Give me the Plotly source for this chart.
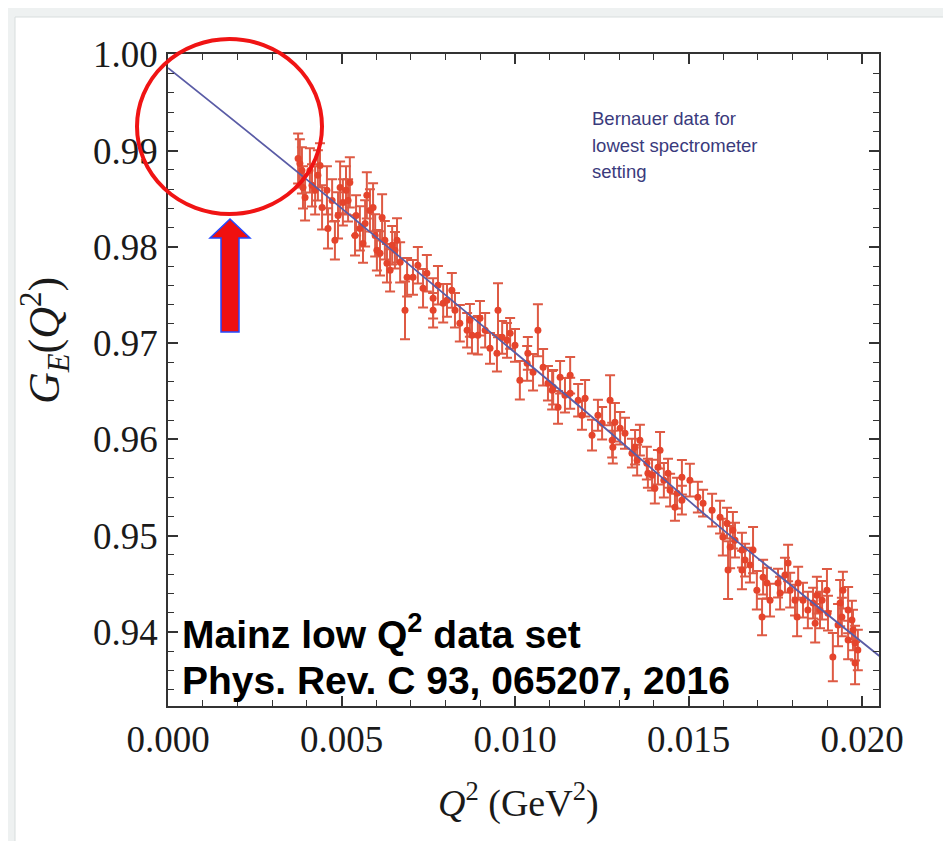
import plotly.graph_objects as go

# ---- data ----
q2 = [0.00380, 0.00395, 0.00389, 0.00432, 0.00444, 0.00461, 0.00458, 0.00481, 0.00496, 0.00504,
      0.00519, 0.00524, 0.00553, 0.00562, 0.00568, 0.00582, 0.00591, 0.00602, 0.00611, 0.00617,
      0.00631, 0.00640, 0.00654, 0.00660, 0.00689, 0.00683, 0.00706, 0.00735, 0.00746, 0.00764,
      0.00764, 0.00793, 0.00804, 0.00841, 0.00862, 0.00870, 0.00893, 0.00899, 0.00928, 0.00948,
      0.00951, 0.00963, 0.00977, 0.00986, 0.01014, 0.01035, 0.01037, 0.01066, 0.01081, 0.01095,
      0.01107, 0.01130,
      0.01110, 0.01124, 0.01159, 0.01159, 0.01193, 0.01222, 0.01251, 0.01274, 0.01280, 0.01288,
      0.01282, 0.01317, 0.01337, 0.01346, 0.01352, 0.01380, 0.01383, 0.01403, 0.01412, 0.01418,
      0.01441, 0.01447, 0.01461, 0.01467, 0.01481, 0.01481, 0.01527, 0.01542, 0.01591, 0.01599,
      0.01611, 0.01614, 0.01620, 0.01654, 0.01654, 0.01663, 0.01686, 0.01715, 0.01712, 0.01726,
      0.01758, 0.01764, 0.01787, 0.01793, 0.01807, 0.01813, 0.01816, 0.01830, 0.01859, 0.01865,
      0.01870, 0.01899, 0.01902, 0.01916, 0.01937, 0.01942, 0.01945, 0.01974, 0.01980, 0.01980,
      0.01971,
      0.00409, 0.00415, 0.00542, 0.00646, 0.00818, 0.01000, 0.01202, 0.01360, 0.01504, 0.01634,
      0.01735, 0.01879, 0.01960,
      0.00375, 0.00386, 0.00424, 0.00438, 0.00473, 0.00490, 0.00513, 0.00539, 0.00573, 0.00597,
      0.00625, 0.00669, 0.00720, 0.00778, 0.00827, 0.00876, 0.00914, 0.01052, 0.01144, 0.01182,
      0.01239, 0.01303, 0.01395, 0.01429, 0.01568, 0.01628, 0.01677, 0.01697, 0.01778, 0.01844,
      0.01885, 0.01931, 0.01988, 0.01960]

ge = [0.98868, 0.98515, 0.98619, 0.98744, 0.98411, 0.98193, 0.98588, 0.98069, 0.98619, 0.98463,
      0.98484, 0.98671, 0.98193, 0.98037, 0.98245, 0.98380, 0.98411, 0.97965, 0.97934, 0.98307,
      0.97830, 0.97757, 0.97965, 0.98069, 0.97684, 0.97342, 0.97684, 0.97570, 0.97726, 0.97466,
      0.97342, 0.97414, 0.97446, 0.97207, 0.97134, 0.97238, 0.97082, 0.97259, 0.96947, 0.96895,
      0.97342, 0.97061, 0.97030, 0.97103, 0.96615, 0.96791, 0.96895, 0.97134, 0.96750, 0.96584,
      0.96511, 0.96646,
      0.96542, 0.96334, 0.96480, 0.96667, 0.96251, 0.96044, 0.96168, 0.96407, 0.95992, 0.96179,
      0.95919, 0.96064, 0.95857, 0.95919, 0.95784, 0.95753, 0.95649, 0.95493, 0.95711, 0.95888,
      0.95649, 0.95473, 0.95296, 0.95441, 0.95607, 0.95369, 0.95400, 0.95338, 0.95192, 0.94985,
      0.95130, 0.94642, 0.94881, 0.94850, 0.94642, 0.94746, 0.94850, 0.94569, 0.94154, 0.94507,
      0.94507, 0.94403, 0.94715, 0.94434, 0.94330, 0.94154, 0.94507, 0.94330, 0.94299, 0.94091,
      0.94382, 0.94434, 0.94195, 0.93738, 0.94299, 0.94154, 0.94434, 0.94019, 0.93884, 0.93676,
      0.94123,
      0.98795, 0.98640, 0.98328, 0.98017, 0.97549, 0.96978, 0.96428, 0.95992, 0.95576, 0.94953,
      0.94330, 0.94227, 0.93915,
      0.98920, 0.98795, 0.98588, 0.98847, 0.98484, 0.98328, 0.98588, 0.98120, 0.98536, 0.98120,
      0.98069, 0.97840, 0.97809, 0.97601, 0.97342, 0.97082, 0.97134, 0.96698, 0.96459, 0.96407,
      0.96251, 0.96116, 0.95628, 0.95576, 0.95265, 0.95057, 0.94694, 0.94434, 0.94590, 0.94227,
      0.94330, 0.94071, 0.93812, 0.94227]

ge_err = [0.0025, 0.0024, 0.0022, 0.0026, 0.0023, 0.0021, 0.0025, 0.0020, 0.0027, 0.0024,
          0.0022, 0.0026, 0.0023, 0.0020, 0.0024, 0.0022, 0.0025, 0.0021, 0.0023, 0.0024,
          0.0020, 0.0022, 0.0019, 0.0023, 0.0020, 0.0030, 0.0018, 0.0020, 0.0019, 0.0021,
          0.0018, 0.0020, 0.0017, 0.0019, 0.0018, 0.0017, 0.0020, 0.0018, 0.0016, 0.0019,
          0.0028, 0.0017, 0.0018, 0.0016, 0.0020, 0.0018, 0.0017, 0.0027, 0.0019, 0.0018,
          0.0020, 0.0017,
          0.0018, 0.0017, 0.0016, 0.0019, 0.0015, 0.0016, 0.0017, 0.0026, 0.0018, 0.0020,
          0.0017, 0.0016, 0.0015, 0.0018, 0.0016, 0.0017, 0.0015, 0.0016, 0.0018, 0.0019,
          0.0015, 0.0017, 0.0014, 0.0016, 0.0018, 0.0015, 0.0016, 0.0014, 0.0017, 0.0019,
          0.0016, 0.0030, 0.0022, 0.0018, 0.0020, 0.0017, 0.0024, 0.0018, 0.0019, 0.0016,
          0.0015, 0.0017, 0.0019, 0.0018, 0.0016, 0.0020, 0.0017, 0.0018, 0.0016, 0.0020,
          0.0019, 0.0022, 0.0018, 0.0025, 0.0024, 0.0020, 0.0019, 0.0021, 0.0018, 0.0022,
          0.0020,
          0.0023, 0.0022, 0.0021, 0.0020, 0.0018, 0.0017, 0.0019, 0.0016, 0.0017, 0.0018,
          0.0017, 0.0019, 0.0020,
          0.0026, 0.0024, 0.0025, 0.0023, 0.0022, 0.0024, 0.0025, 0.0021, 0.0024, 0.0022,
          0.0020, 0.0021, 0.0019, 0.0020, 0.0018, 0.0019, 0.0018, 0.0019, 0.0018, 0.0017,
          0.0016, 0.0017, 0.0016, 0.0018, 0.0017, 0.0019, 0.0018, 0.0020, 0.0018, 0.0019,
          0.0020, 0.0022, 0.0021, 0.0024]

fit_q2 = [0.0, 0.004, 0.008, 0.012, 0.016, 0.0205]
fit_ge = [0.9986, 0.9870, 0.9750, 0.9630, 0.9506, 0.9375]

x_ticks = [0.000, 0.005, 0.010, 0.015, 0.020]
x_ticklabels = ["0.000", "0.005", "0.010", "0.015", "0.020"]
y_ticks = [0.94, 0.95, 0.96, 0.97, 0.98, 0.99, 1.00]
y_ticklabels = ["0.94", "0.95", "0.96", "0.97", "0.98", "0.99", "1.00"]

# ---- page geometry (the page body adds an 8px offset) ----
OFF = 8
W, H = 935, 833
ML, MR, MT, MB = 160, 64, 46, 135
PW, PH = W - ML - MR, H - MT - MB


def px(x):
    """reference-screen pixel x -> paper x"""
    return (x - OFF - ML) / PW


def py(y):
    """reference-screen pixel y -> paper y"""
    return (H - MB - (y - OFF)) / PH


fig = go.Figure()

fig.add_trace(go.Scatter(
    x=q2, y=ge, mode="markers",
    marker=dict(size=7, color="#e5442c"),
    error_y=dict(type="data", array=ge_err, visible=True,
                 color="#de5a44", thickness=2, width=5),
    showlegend=False, hoverinfo="x+y"))

fig.add_trace(go.Scatter(
    x=fit_q2, y=fit_ge, mode="lines",
    line=dict(color="#5a5ca6", width=1.8, shape="spline"),
    showlegend=False))

axis_common = dict(
    showline=True, mirror="allticks", linecolor="#333333", linewidth=1.5,
    ticks="inside", ticklen=10, tickwidth=1.5, tickcolor="#333333",
    showgrid=False, zeroline=False,
    tickfont=dict(family="Liberation Serif", size=37, color="#1a1a1a"),
)

fig.update_xaxes(
    range=[0.0, 0.02049], tickvals=x_ticks, ticktext=x_ticklabels,
    minor=dict(ticks="inside", ticklen=6, dtick=0.001, tickcolor="#333333", tickwidth=1.2),
    ticklabelstandoff=0, **axis_common)
fig.update_yaxes(
    range=[0.9323, 1.00005], tickvals=y_ticks, ticktext=y_ticklabels,
    minor=dict(ticks="inside", ticklen=6, dtick=0.002, tickcolor="#333333", tickwidth=1.2),
    ticklabelstandoff=1, **axis_common)

shapes = [
    dict(type="rect", xref="paper", yref="paper", layer="below",
         x0=px(15), x1=px(945), y0=py(845), y1=py(17),
         fillcolor="white", line=dict(color="#d8dddd", width=1)),
    dict(type="circle", xref="paper", yref="paper",
         x0=px(137), x1=px(322), y0=py(214), y1=py(39),
         line=dict(color="#f01414", width=4)),
    dict(type="path", xref="paper", yref="paper",
         path=("M {a},{b} L {c},{d} L {e},{d} L {e},{f} L {g},{f} L {g},{d} L {h},{d} Z"
               .format(a=px(230), b=py(219), c=px(250), d=py(238), e=px(239),
                       f=py(332), g=px(221), h=px(210))),
         fillcolor="#f01010", line=dict(color="#2448ff", width=1.5)),
]

annotations = [
    dict(text="Bernauer data for", x=px(590), y=py(118)),
    dict(text="lowest spectrometer", x=px(590), y=py(145)),
    dict(text="setting", x=px(590), y=py(172)),
]
for a in annotations:
    a.update(xref="paper", yref="paper", xanchor="left", yanchor="middle", showarrow=False,
             font=dict(family="Liberation Sans", size=18.5, color="#3a3a7c"))

annotations += [
    dict(text="<b>Mainz low Q<sup>2</sup> data set</b>", x=px(180), y=py(631),
         xref="paper", yref="paper", xanchor="left", yanchor="middle", showarrow=False,
         font=dict(family="Liberation Sans", size=39, color="black")),
    dict(text="<b>Phys. Rev. C 93, 065207, 2016</b>", x=px(180), y=py(680),
         xref="paper", yref="paper", xanchor="left", yanchor="middle", showarrow=False,
         font=dict(family="Liberation Sans", size=39, color="black")),
    dict(text="<i>Q</i><sup>2</sup> (GeV<sup>2</sup>)", x=px(518), y=py(800),
         xref="paper", yref="paper", xanchor="center", yanchor="middle", showarrow=False,
         font=dict(family="Liberation Serif", size=38, color="#1a1a1a")),
    dict(text="<i>G<sub>E</sub></i>(<i>Q</i><sup>2</sup>)", x=px(45), y=py(341),
         xref="paper", yref="paper", xanchor="center", yanchor="middle", showarrow=False,
         textangle=-90,
         font=dict(family="Liberation Serif", size=44, color="#1a1a1a")),
]

fig.update_layout(
    width=W, height=H,
    margin=dict(l=ML, r=MR, t=MT, b=MB),
    paper_bgcolor="#eef1f1", plot_bgcolor="white",
    shapes=shapes, annotations=annotations,
    showlegend=False,
)

fig.write_html("out.html")
